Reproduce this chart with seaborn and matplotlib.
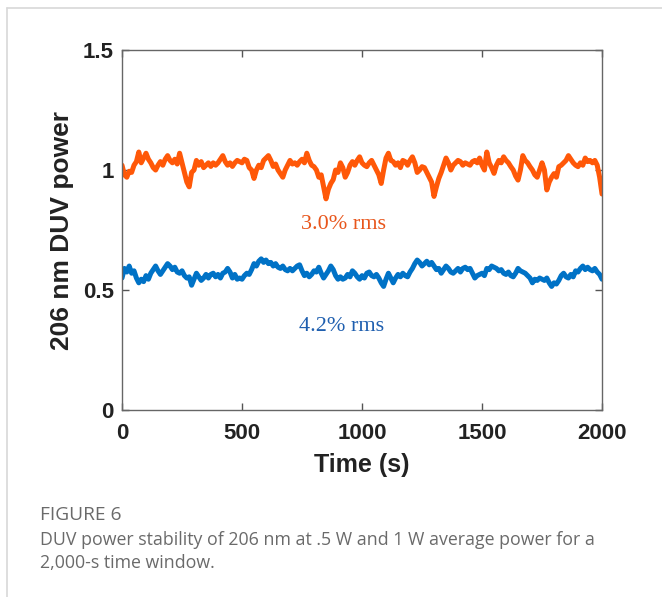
import numpy as np
import pandas as pd
import matplotlib
matplotlib.use("Agg")
import matplotlib.pyplot as plt
import seaborn as sns
from matplotlib.lines import Line2D

sns.set_theme(style="ticks")
plt.rcParams.update({
    "font.family": ["Liberation Sans", "DejaVu Sans"],
    "axes.linewidth": 1.0,
    "xtick.direction": "in",
    "ytick.direction": "in",
})

# time axis, one reading every 10 s
time_s = np.arange(0, 2001, 10)

# 1 W run (orange)
power_1w = [
    1.02, 0.98, 0.97, 0.995, 0.99, 1.02, 1.035, 1.075, 1.03, 1.05,
    1.07, 1.045, 1.03, 1.01, 1.0, 1.02, 1.035, 1.02, 1.045, 1.06,
    1.04, 1.03, 1.045, 1.025, 1.07, 1.03, 0.99, 0.95, 0.93, 0.99,
    1.0, 1.04, 1.02, 1.035, 1.01, 1.02, 1.03, 1.015, 1.03, 1.02,
    1.03, 1.045, 1.06, 1.035, 1.02, 1.03, 1.015, 1.03, 1.04, 1.035,
    1.03, 1.045, 1.04, 1.01, 1.0, 0.965, 1.0, 1.02, 1.01, 1.04,
    1.05, 1.06, 1.04, 1.015, 1.025, 1.0, 0.985, 0.97, 1.0, 1.02,
    1.04, 1.025, 1.03, 1.02, 1.035, 1.045, 1.03, 1.07, 1.04, 1.02,
    1.014, 1.0, 0.97, 0.98, 0.93, 0.88, 0.92, 0.944, 0.96, 1.0,
    0.99, 1.03, 1.01, 0.97, 0.99, 1.02, 1.035, 1.02, 1.04, 1.055,
    1.03, 1.02, 1.014, 1.03, 1.04, 1.02, 1.0, 0.98, 0.944, 1.0,
    1.05, 1.07, 1.04, 1.035, 1.02, 1.03, 1.01, 1.04, 1.035, 1.02,
    1.04, 1.055, 1.03, 0.99, 1.0, 1.014, 1.01, 0.99, 0.97, 0.95,
    0.89, 0.93, 0.965, 0.99, 1.02, 1.05, 1.03, 1.0, 1.02, 1.03,
    1.04, 1.035, 1.02, 1.03, 1.025, 1.02, 1.035, 1.04, 1.03, 1.05,
    1.02, 1.0, 1.075, 1.03, 1.01, 0.986, 1.02, 1.04, 1.03, 1.055,
    1.04, 1.03, 1.014, 1.0, 0.975, 0.958, 1.0, 1.06, 1.04, 1.03,
    1.014, 1.0, 0.98, 0.97, 1.0, 1.03, 1.0, 0.917, 0.95, 0.97,
    0.985, 0.97, 1.014, 1.02, 1.03, 1.04, 1.06, 1.045, 1.03, 1.02,
    1.014, 1.03, 1.02, 1.05, 1.035, 1.04, 1.03, 1.04, 1.02, 0.97,
    0.90,
]

# 0.5 W run (blue)
power_05w = [
    0.55, 0.59, 0.575, 0.60, 0.57, 0.58, 0.55, 0.53, 0.545, 0.535,
    0.56, 0.545, 0.57, 0.585, 0.60, 0.58, 0.565, 0.58, 0.595, 0.61,
    0.60, 0.585, 0.595, 0.575, 0.57, 0.58, 0.56, 0.55, 0.555, 0.52,
    0.545, 0.57, 0.555, 0.54, 0.55, 0.565, 0.55, 0.565, 0.57, 0.555,
    0.565, 0.55, 0.57, 0.575, 0.59, 0.575, 0.55, 0.565, 0.545, 0.55,
    0.545, 0.56, 0.57, 0.565, 0.585, 0.61, 0.60, 0.62, 0.63, 0.615,
    0.625, 0.61, 0.615, 0.60, 0.61, 0.595, 0.59, 0.60, 0.585, 0.58,
    0.59, 0.58, 0.59, 0.60, 0.605, 0.58, 0.56, 0.57, 0.555, 0.565,
    0.58, 0.575, 0.595, 0.57, 0.55, 0.565, 0.58, 0.60, 0.585, 0.56,
    0.545, 0.555, 0.545, 0.55, 0.565, 0.555, 0.58, 0.57, 0.555, 0.545,
    0.56, 0.55, 0.57, 0.575, 0.56, 0.555, 0.565, 0.55, 0.53, 0.515,
    0.545, 0.57, 0.55, 0.53, 0.55, 0.565, 0.555, 0.57, 0.56, 0.555,
    0.575, 0.59, 0.61, 0.625, 0.615, 0.60, 0.61, 0.62, 0.605, 0.615,
    0.60, 0.585, 0.59, 0.57, 0.585, 0.60, 0.59, 0.575, 0.57, 0.58,
    0.59, 0.575, 0.59, 0.595, 0.585, 0.59, 0.57, 0.55, 0.56, 0.565,
    0.57, 0.56, 0.59, 0.585, 0.60, 0.595, 0.59, 0.58, 0.585, 0.57,
    0.565, 0.575, 0.56, 0.555, 0.57, 0.59, 0.58, 0.575, 0.57, 0.56,
    0.55, 0.53, 0.545, 0.54, 0.55, 0.545, 0.54, 0.55, 0.53, 0.515,
    0.53, 0.525, 0.54, 0.56, 0.57, 0.555, 0.55, 0.565, 0.555, 0.58,
    0.575, 0.59, 0.60, 0.585, 0.595, 0.585, 0.58, 0.59, 0.575, 0.565,
    0.545,
]

x_ticks = [0, 500, 1000, 1500, 2000]
y_ticks = [0, 0.5, 1, 1.5]
y_tick_labels = ["0", "0.5", "1", "1.5"]

orange = "#FF5808"
blue = "#0072C6"

df = pd.DataFrame({"time": time_s, "p1": power_1w, "p05": power_05w})

fig = plt.figure(figsize=(6.62, 5.97), dpi=100)
ax = fig.add_axes([0.1843, 0.3132, 0.7251, 0.6030])

sns.lineplot(data=df, x="time", y="p1", color=orange, linewidth=3.6, ax=ax)
sns.lineplot(data=df, x="time", y="p05", color=blue, linewidth=3.6, ax=ax)

ax.set_xlim(0, 2000)
ax.set_ylim(0, 1.5)
ax.set_xticks(x_ticks)
ax.set_xticklabels([str(t) for t in x_ticks])
ax.set_yticks(y_ticks)
ax.set_yticklabels(y_tick_labels)
ax.tick_params(axis="both", labelsize=16, length=5, width=1, color="#555555",
               labelcolor="#222222", top=True, right=True)
ax.tick_params(axis="y", pad=6)
ax.tick_params(axis="x", pad=9)
for lab in ax.get_xticklabels() + ax.get_yticklabels():
    lab.set_fontweight("bold")
for sp in ax.spines.values():
    sp.set_color("#666666")

ax.set_xlabel("Time (s)", fontsize=18, fontweight="bold", color="#222222", labelpad=7)
ax.set_ylabel("206 nm DUV power", fontsize=19, fontweight="bold", color="#222222", labelpad=6)

ax.text(922, 0.775, "3.0% rms", color="#E8561C", fontsize=16,
        family="Liberation Serif", ha="center", va="center")
ax.text(915, 0.35, "4.2% rms", color="#1F5FAF", fontsize=16,
        family="Liberation Serif", ha="center", va="center")

# page frame lines
fig.add_artist(Line2D([7 / 662, 1], [1 - 8 / 597, 1 - 8 / 597], color="#d8d8d8", lw=1.2))
fig.add_artist(Line2D([7 / 662, 7 / 662], [0, 1 - 8 / 597], color="#d8d8d8", lw=1.2))

cap_font = ["Open Sans", "DejaVu Sans"]
fig.text(40 / 662, 1 - 515 / 597, "FIGURE 6", fontsize=13.8, color="#6a6a6a",
         family=cap_font, va="center", ha="left")
fig.text(40 / 662, 1 - 540 / 597,
         "DUV power stability of 206 nm at .5 W and 1 W average power for a",
         fontsize=12.75, color="#6a6a6a", family=cap_font, va="center", ha="left")
fig.text(40 / 662, 1 - 563 / 597, "2,000-s time window.", fontsize=12.75,
         color="#6a6a6a", family=cap_font, va="center", ha="left")

fig.savefig("out.png", dpi=100)
